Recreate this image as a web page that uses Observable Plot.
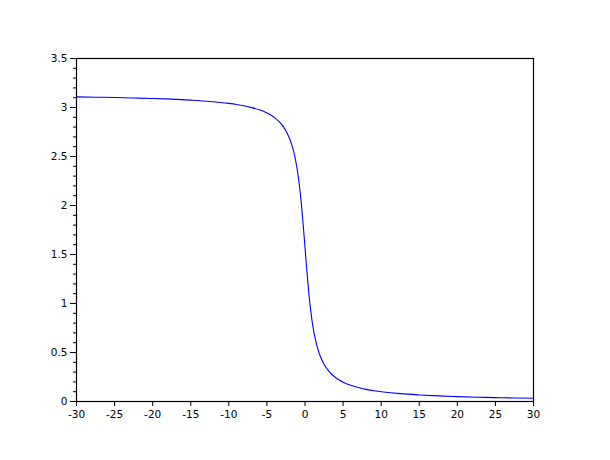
<!DOCTYPE html>
<html>
<head>
<meta charset="utf-8">
<script src="https://cdn.jsdelivr.net/npm/d3@7"></script>
<script src="https://cdn.jsdelivr.net/npm/@observablehq/plot@0.6"></script>
<style>
  html, body { margin: 0; padding: 0; background: #fff; }
  svg { display: block; }
</style>
</head>
<body>
<div id="chart"></div>
<script>
const xs = [-30, -27.5, -25, -22.5, -20, -17.5, -15, -12.5, -10, -9, -8, -7, -6, -5, -4.5, -4, -3.5, -3, -2.5, -2, -1.75, -1.5, -1.25, -1, -0.75, -0.5, -0.25, 0, 0.25, 0.5, 0.75, 1, 1.25, 1.5, 1.75, 2, 2.5, 3, 3.5, 4, 4.5, 5, 6, 7, 8, 9, 10, 12.5, 15, 17.5, 20, 22.5, 25, 27.5, 30];
const ys = [3.108, 3.105, 3.102, 3.097, 3.092, 3.085, 3.075, 3.062, 3.042, 3.031, 3.017, 2.999, 2.976, 2.944, 2.923, 2.897, 2.863, 2.820, 2.761, 2.678, 2.622, 2.554, 2.467, 2.356, 2.214, 2.034, 1.816, 1.571, 1.326, 1.107, 0.927, 0.785, 0.675, 0.588, 0.519, 0.464, 0.381, 0.322, 0.278, 0.245, 0.219, 0.197, 0.165, 0.142, 0.124, 0.110, 0.100, 0.080, 0.067, 0.057, 0.050, 0.044, 0.040, 0.036, 0.033];
const xTicks = [-30, -25, -20, -15, -10, -5, 0, 5, 10, 15, 20, 25, 30];
const yTicks = [0, 0.5, 1, 1.5, 2, 2.5, 3, 3.5];
const yMinorTicks = d3.range(0, 36).map(i => i / 10).filter(v => !yTicks.some(t => Math.abs(t - v) < 1e-9));

const data = xs.map((x, i) => ({x, y: ys[i]}));

const chart = Plot.plot({
  width: 610,
  height: 460,
  marginLeft: 76,
  marginRight: 77,
  marginTop: 58,
  marginBottom: 59,
  style: {fontFamily: "DejaVu Sans, sans-serif", fontSize: "10.5px", color: "#000", background: "#fff"},
  x: {domain: [-30, 30]},
  y: {domain: [0, 3.5]},
  marks: [
    Plot.line(data, {x: "x", y: "y", stroke: "#0000ff", strokeWidth: 1.1, curve: "monotone-x"}),
    Plot.axisY(yMinorTicks, {tickSize: 3, tickFormat: () => "", stroke: "#000", label: null}),
    Plot.axisY(yTicks, {tickSize: 6, tickPadding: 3, tickFormat: d => String(d), stroke: "#000", fill: "#000", label: null}),
    Plot.axisX(xTicks, {tickSize: 5, tickPadding: 4, tickFormat: d => String(d), stroke: "#000", fill: "#000", label: null}),
    Plot.frame({stroke: "#000", strokeWidth: 1.2})
  ]
});
document.getElementById("chart").append(chart);
</script>
</body>
</html>
